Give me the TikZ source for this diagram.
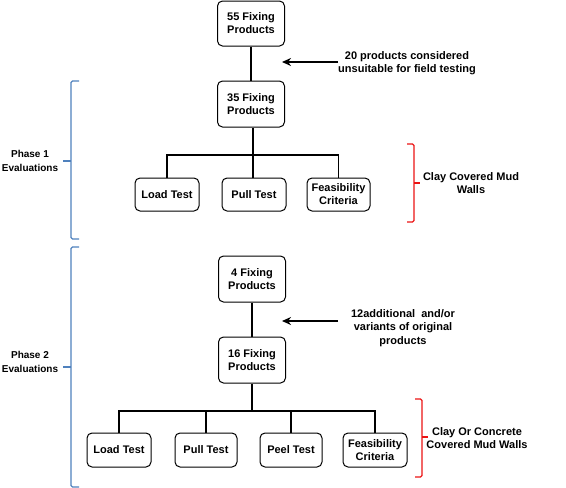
\documentclass[tikz,border=0pt]{standalone}
\usepackage{fontspec}
\setmainfont{Liberation Sans}
\usetikzlibrary{arrows.meta}

\begin{document}
\begin{tikzpicture}[x=1pt,y=-1pt,
  box/.style={draw,line width=1pt,rounded corners=5pt,align=center,
    inner sep=0pt,font=\bfseries\fontsize{11}{13}\selectfont},
  note/.style={align=center,font=\bfseries\fontsize{11}{13.5}\selectfont},
  link/.style={line width=1.7pt},
  pointer/.style={line width=1.7pt,-{Stealth[length=9pt,width=8pt]}},
  phase/.style={line width=1.3pt,rounded corners=1.5pt,color=phaseblue},
  wall/.style={line width=1.3pt,rounded corners=1.5pt,color=wallred}]
\definecolor{phaseblue}{RGB}{79,129,189}
\definecolor{wallred}{RGB}{235,20,20}
\useasboundingbox (0,0) rectangle (566,488);

% phase 1
\node[box,minimum width=67pt,minimum height=45pt] (p55) at (251,23.5) {55 Fixing\\Products};
\node[box,minimum width=67pt,minimum height=46pt] (p35) at (251,104) {35 Fixing\\Products};
\node[box,minimum width=64pt,minimum height=33pt] (load1) at (167,194.5) {Load Test};
\node[box,minimum width=64pt,minimum height=33pt] (pull1) at (254,194.5) {Pull Test};
\node[box,minimum width=63pt,minimum height=33pt] (feas1) at (338.5,194.5) {Feasibility\\Criteria};
\coordinate (bar1) at (253,155);

\draw[link] (p55) -- (p35);
\draw[link] (p35.south -| bar1) -- (pull1.north -| bar1);
\draw[link] (load1.north) |- (bar1) -| (feas1.north);

\node[note] (note1) at (407,63) {20 products considered\\unsuitable for field testing};
\coordinate (tip1) at (282,62);
\draw[pointer] (338,62) -- (tip1);

% phase 2
\node[box,minimum width=67pt,minimum height=46pt] (p4) at (252,279) {4 Fixing\\Products};
\node[box,minimum width=67pt,minimum height=46pt] (p16) at (252,360) {16 Fixing\\Products};
\node[box,minimum width=64pt,minimum height=34pt] (load2) at (119,450) {Load Test};
\node[box,minimum width=62pt,minimum height=34pt] (pull2) at (206,450) {Pull Test};
\node[box,minimum width=62pt,minimum height=34pt] (peel2) at (291,450) {Peel Test};
\node[box,minimum width=64pt,minimum height=34pt] (feas2) at (375,450) {Feasibility\\Criteria};
\coordinate (bar2) at (252,411);

\draw[link] (p4) -- (p16);
\draw[link] (p16.south) -- (bar2);
\draw[link] (load2.north) |- (bar2) -| (feas2.north);
\draw[link] (pull2.north) -- (pull2.north |- bar2);
\draw[link] (peel2.north) -- (peel2.north |- bar2);

\node[note] (note2) at (403,328) {12additional\ \ and/or\\variants of original\\products};
\coordinate (tip2) at (282,321);
\draw[pointer] (338,321) -- (tip2);

% side brackets
\draw[phase] (79,81) -- (71,81) -- (71,239) -- (79,239);
\draw[phase] (71,161) -- (63,161);
\node[note,font=\bfseries\fontsize{10}{13.5}\selectfont] (ph1) at (30,161) {Phase 1\\Evaluations};

\draw[phase] (79,247) -- (71,247) -- (71,487) -- (79,487);
\draw[phase] (71,367) -- (63,367);
\node[note,font=\bfseries\fontsize{10}{13.5}\selectfont] (ph2) at (30,362) {Phase 2\\Evaluations};

\draw[wall] (407,144) -- (414,144) -- (414,222) -- (407,222);
\draw[wall] (414,183) -- (420,183);
\node[note] (w1) at (471,183) {Clay Covered Mud\\Walls};

\draw[wall] (415,399) -- (422,399) -- (422,477) -- (415,477);
\draw[wall] (422,437) -- (428,437);
\node[note] (w2) at (477,438) {Clay Or Concrete\\Covered Mud Walls};

\end{tikzpicture}
\end{document}
